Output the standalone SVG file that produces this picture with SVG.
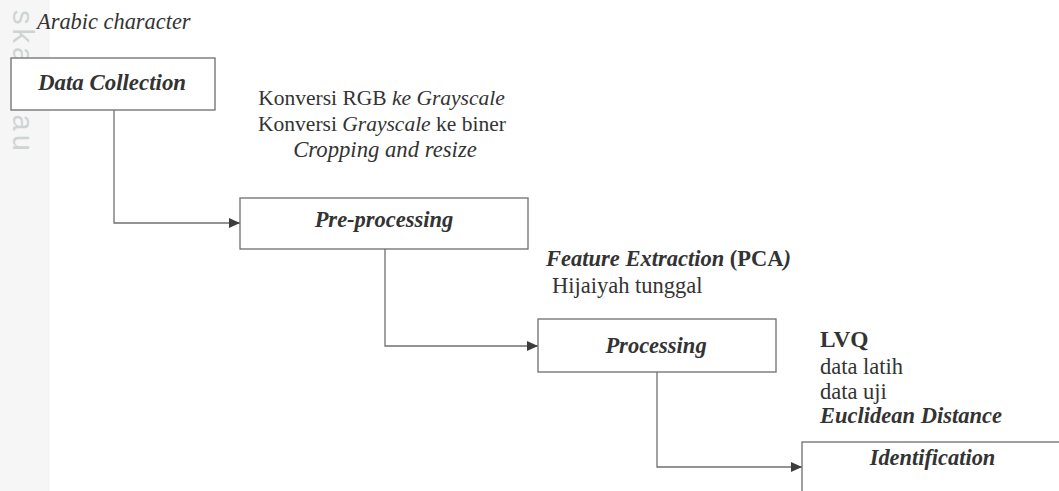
<svg xmlns="http://www.w3.org/2000/svg" width="1059" height="491" viewBox="0 0 1059 491">
  <style>
    .t { font-family: "Liberation Serif", "Times New Roman", serif; font-size: 22.5px; fill: #333333; }
    .i { font-style: italic; }
    .b { font-weight: bold; }
    .box { fill: #ffffff; stroke: #6e6e6e; stroke-width: 1.3; }
    .conn { fill: none; stroke: #707070; stroke-width: 1.3; }
    .wm { font-family: "Liberation Sans", Arial, sans-serif; font-size: 29px; letter-spacing: 4px; fill: #cdd5d3; }
  </style>
  <defs>
    <marker id="arrow" viewBox="0 0 11 10" refX="11" refY="5" markerWidth="11" markerHeight="10" markerUnits="userSpaceOnUse" orient="auto">
      <path d="M0,0 L11,5 L0,10 Z" fill="#3c3c3c"/>
    </marker>
  </defs>
  <rect width="1059" height="491" fill="#ffffff"/>
  <g id="watermark">
    <rect x="0" y="0" width="50" height="491" fill="#f6f6f6"/>
    <text class="wm" transform="translate(13,10) rotate(90)">ska Riau</text>
  </g>

  <g id="connectors">
    <path class="conn" d="M114,110 V223 H240" marker-end="url(#arrow)"/>
    <path class="conn" d="M385,249 V346 H538" marker-end="url(#arrow)"/>
    <path class="conn" d="M657,372 V467 H802" marker-end="url(#arrow)"/>
  </g>

  <g id="label-arabic">
    <text class="t i" x="37" y="29" style="font-size:22.4px">Arabic character</text>
  </g>
  <g id="node-data-collection">
    <rect class="box" x="11" y="58" width="204" height="52"/>
    <text class="t i b" x="112" y="90" text-anchor="middle" style="font-size:22.9px">Data Collection</text>
  </g>

  <g id="label-preprocessing">
    <text class="t" x="381.5" y="105" text-anchor="middle" style="font-size:21.5px">Konversi RGB <tspan class="i">ke Grayscale</tspan></text>
    <text class="t" x="382" y="131" text-anchor="middle" style="font-size:21.5px">Konversi <tspan class="i">Grayscale</tspan> ke biner</text>
    <text class="t i" x="385" y="157" text-anchor="middle" style="font-size:22.7px">Cropping and resize</text>
  </g>
  <g id="node-preprocessing">
    <rect class="box" x="240" y="198" width="288" height="51"/>
    <text class="t i b" x="384" y="227" text-anchor="middle">Pre-processing</text>
  </g>

  <g id="label-processing">
    <text class="t b" x="546" y="266"><tspan class="i">Feature Extraction</tspan> (PCA<tspan class="i">)</tspan></text>
    <text class="t" x="552" y="293">Hijaiyah tunggal</text>
  </g>
  <g id="node-processing">
    <rect class="box" x="538" y="319" width="238" height="53"/>
    <text class="t i b" x="656" y="353" text-anchor="middle">Processing</text>
  </g>

  <g id="label-identification">
    <text class="t b" x="820" y="347" style="font-size:23.4px">LVQ</text>
    <text class="t" x="820" y="374">data latih</text>
    <text class="t" x="820" y="399">data uji</text>
    <text class="t i b" x="820" y="423">Euclidean Distance</text>
  </g>
  <g id="node-identification">
    <rect class="box" x="802" y="442" width="270" height="60"/>
    <text class="t i b" x="932.5" y="465" text-anchor="middle" style="font-size:22.4px">Identification</text>
  </g>
</svg>
